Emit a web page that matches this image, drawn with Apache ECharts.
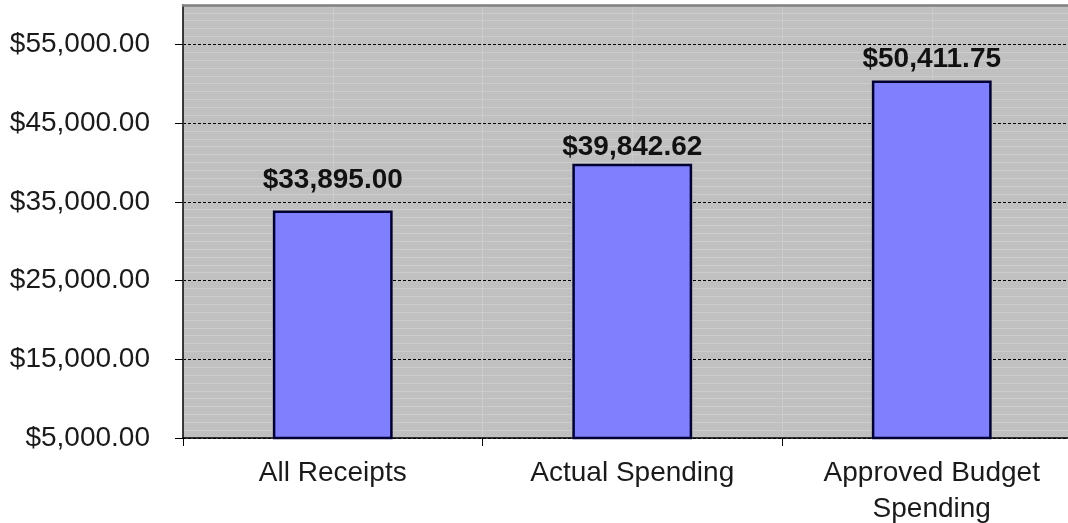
<!DOCTYPE html>
<html>
<head>
<meta charset="utf-8">
<script src="https://cdn.jsdelivr.net/npm/echarts@6/dist/echarts.min.js"></script>
<style>
  html, body { margin: 0; padding: 0; background: #ffffff; }
  #chart { width: 1068px; height: 523px; }
</style>
</head>
<body>
<div id="chart"></div>
<script>
// ---- data ----
var categories = ['All Receipts', 'Actual Spending', 'Approved Budget\nSpending'];
var values = [33895.00, 39842.62, 50411.75];
var yMin = 5000;
var yMax = 60000;
var yStep = 10000;

// ---- style (label gaps above each bar, as placed in the original) ----
var labelGaps = [16, 2, 7];

function money(v) {
  return '$' + Number(v).toLocaleString('en-US', { minimumFractionDigits: 2, maximumFractionDigits: 2 });
}

// half-category texture lines
var halfCats = [];
for (var i = 0; i < categories.length * 2; i++) halfCats.push('h' + i);

var FONT = '"Liberation Sans", Arial, sans-serif';

var barData = values.map(function (v, i) {
  return { value: v, label: { distance: labelGaps[i] } };
});

var chart = echarts.init(document.getElementById('chart'), null, { renderer: 'canvas' });
chart.setOption({
  animation: false,
  backgroundColor: '#ffffff',
  grid: {
    left: 183, top: 5, height: 433, width: 898.5,
    outerBoundsMode: 'none',
    containLabel: false,
    show: true, backgroundColor: '#c0c0c0', borderColor: '#808080', borderWidth: 0
  },
  xAxis: [{
    type: 'category',
    data: categories,
    axisLine: { show: true, lineStyle: { color: '#000', width: 1.5 } },
    axisTick: { show: true, length: 8, lineStyle: { color: '#000', width: 1 } },
    axisLabel: {
      color: '#1a1a1a', fontSize: 28, fontFamily: FONT, margin: 17,
      lineHeight: 36, interval: 0
    },
    splitLine: { show: false }
  }, {
    type: 'category',
    data: halfCats,
    position: 'top',
    axisLine: { show: true, lineStyle: { color: '#808080', width: 2.5 } },
    axisTick: { show: false },
    axisLabel: { show: false },
    splitLine: { show: true, interval: 0, lineStyle: { color: '#cbcbcb', width: 1 } }
  }],
  yAxis: {
    type: 'value',
    min: yMin, max: yMax, interval: yStep,
    axisLine: { show: true, lineStyle: { color: '#000', width: 1.5 } },
    axisTick: { show: true, length: 8, lineStyle: { color: '#000', width: 1 } },
    axisLabel: {
      color: '#1a1a1a', fontSize: 28, fontFamily: FONT, margin: 33,
      showMaxLabel: false,
      formatter: function (v) { return money(v); }
    },
    splitLine: { show: true, lineStyle: { color: '#000', type: [3, 2], width: 1 } },
    minorTick: { show: false, splitNumber: 10 },
    minorSplitLine: { show: true, lineStyle: { color: '#cdcdcd', width: 1 } }
  },
  series: [{
    type: 'bar',
    data: barData,
    xAxisIndex: 0,
    barWidth: '40%',
    itemStyle: { color: '#8080ff', borderColor: '#000033', borderWidth: 2.5 },
    label: {
      show: true, position: 'top', distance: 10,
      color: '#111', fontSize: 28, fontWeight: 'bold', fontFamily: FONT,
      formatter: function (p) { return money(p.value); }
    }
  }]
});
</script>
</body>
</html>
